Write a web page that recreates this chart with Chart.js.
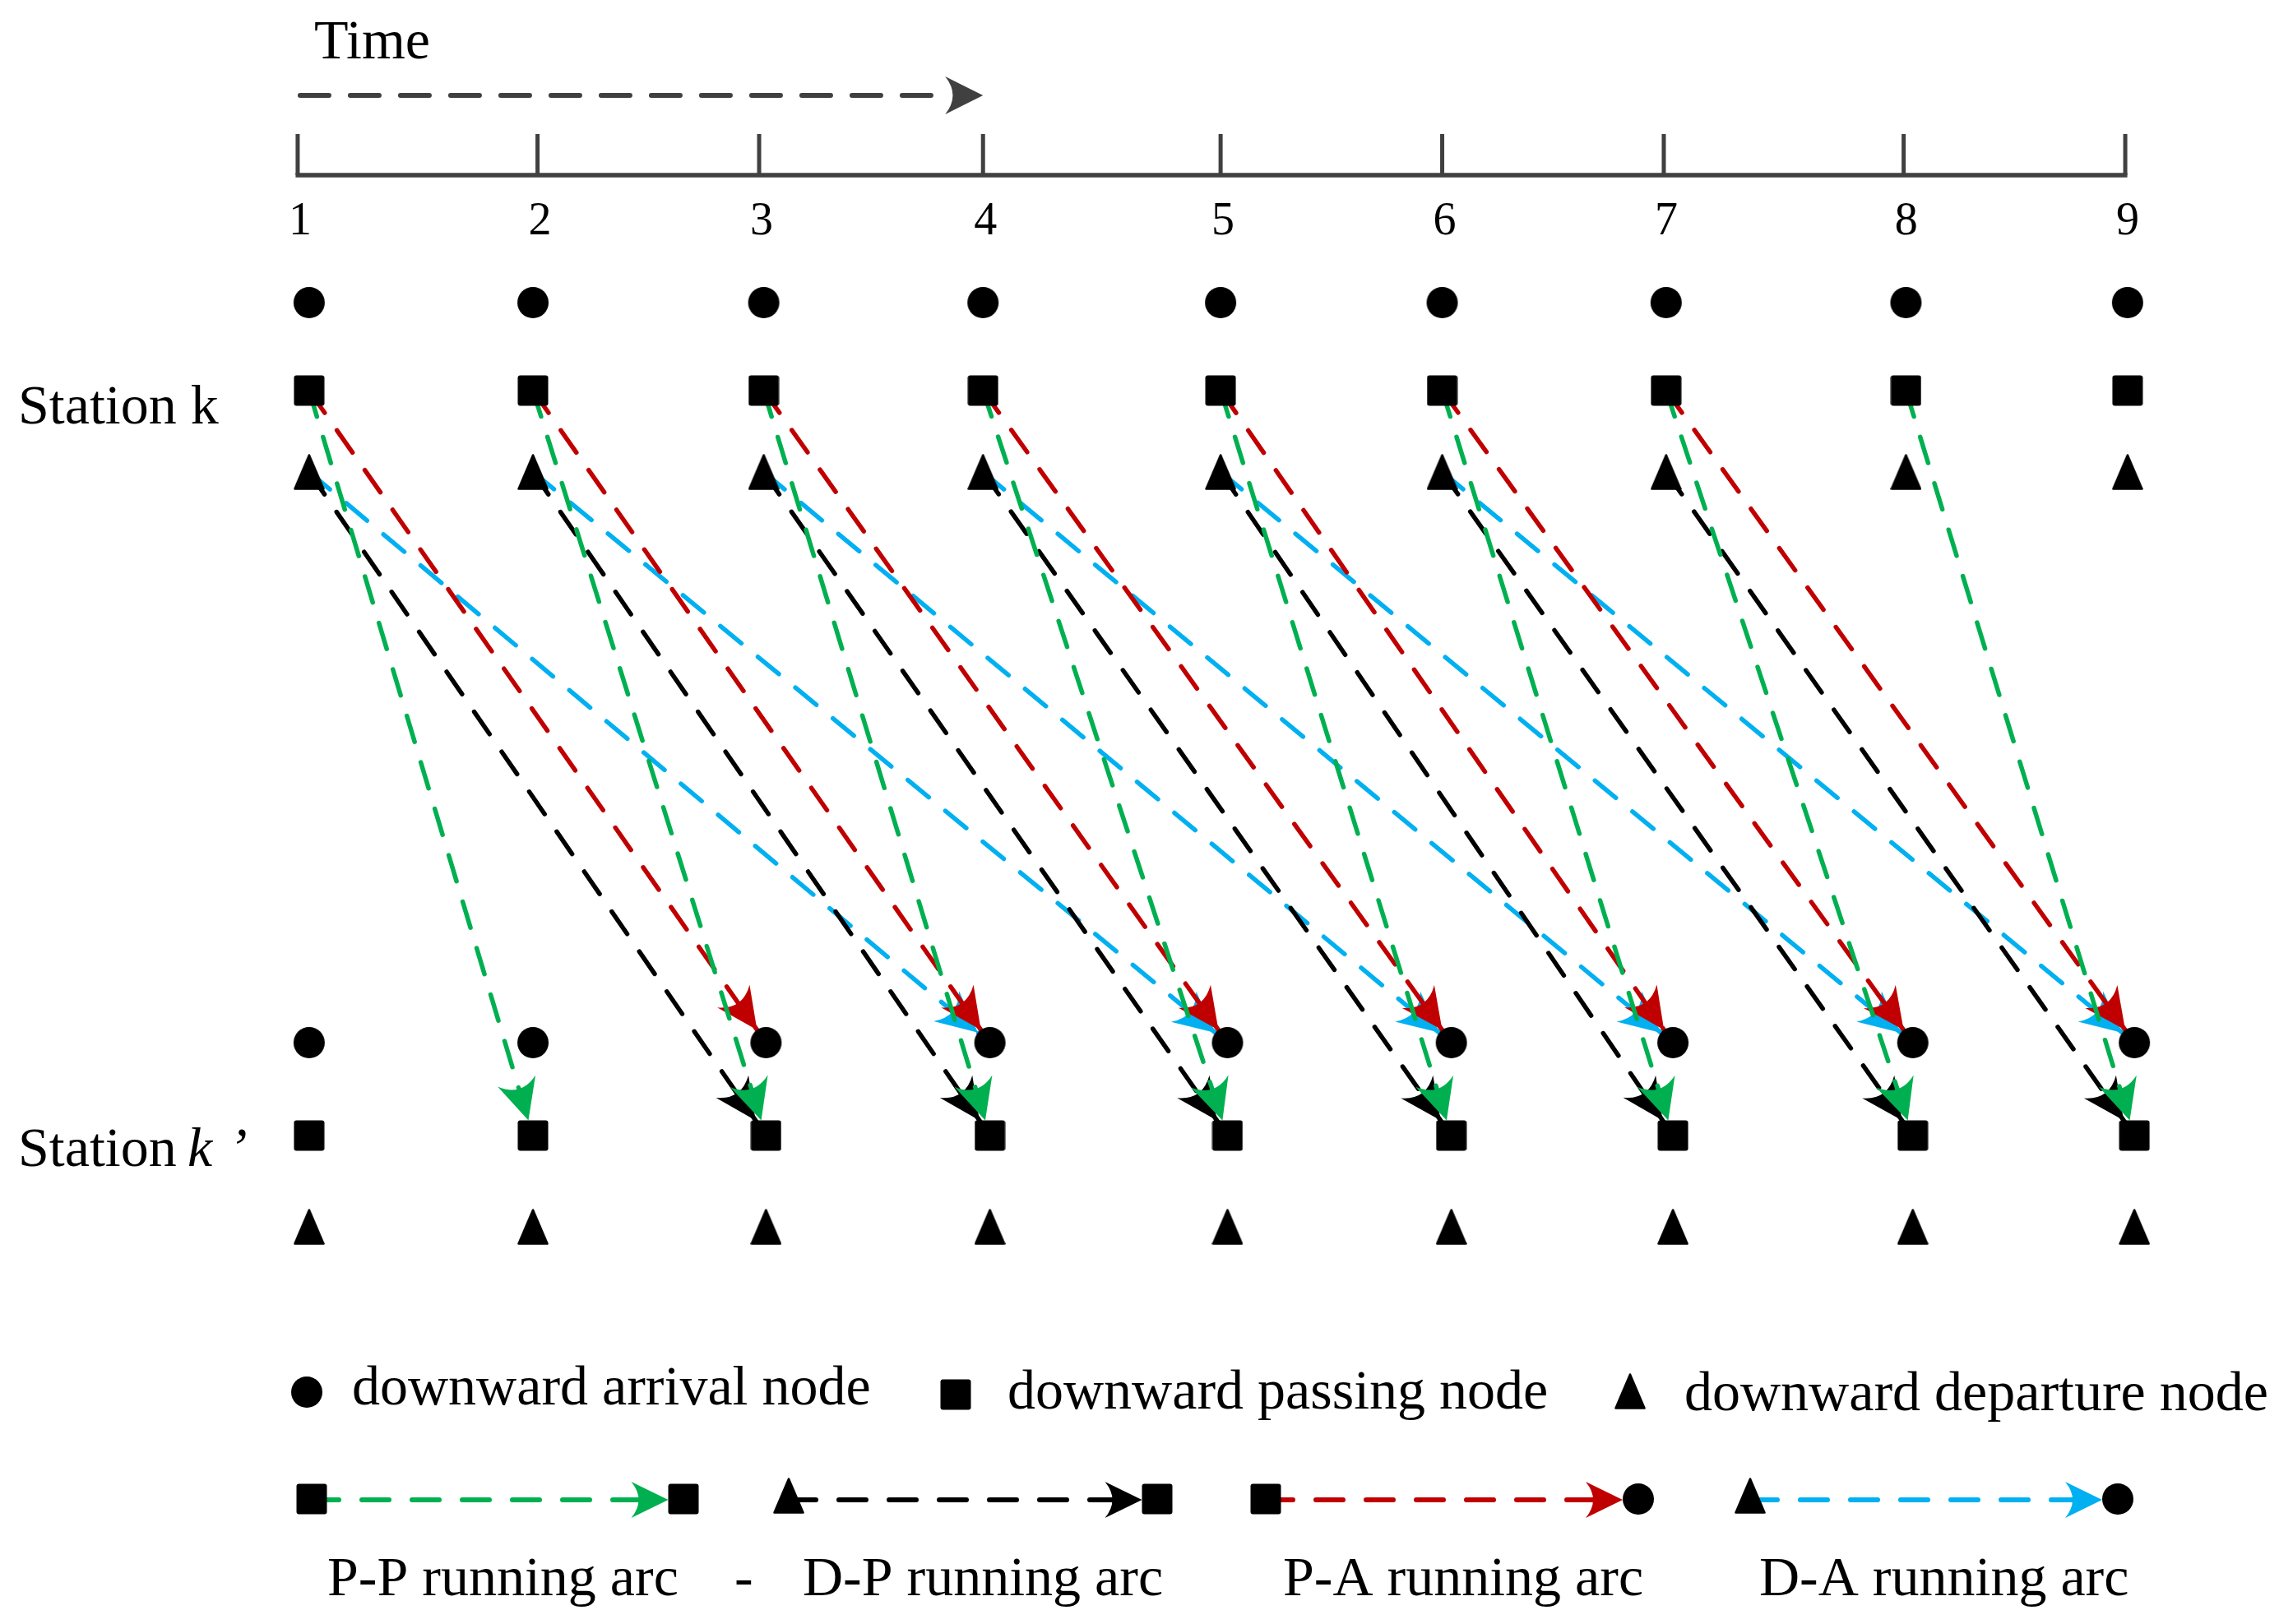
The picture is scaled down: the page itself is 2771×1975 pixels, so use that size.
<!DOCTYPE html>
<html lang="en">
<head>
<meta charset="UTF-8" />
<title>Running arcs between station k and station k'</title>
<script src="https://cdn.jsdelivr.net/npm/chart.js"></script>
<style>
  html, body { margin: 0; padding: 0; background: #fff; }
  canvas { display: block; }
</style>
</head>
<body>
<canvas id="arcChart" width="2771" height="1975"></canvas>
<script>
  // time axis
  const tickLabels = ['1', '2', '3', '4', '5', '6', '7', '8', '9'];
  const tickTimes = [1.00, 2.05, 3.02, 4.00, 5.04, 6.01, 6.98, 8.03, 9.00];

  // node times at each station (slot 1..9)
  const stationKTimes = [1.05, 2.03, 3.04, 4.00, 5.04, 6.01, 6.99, 8.04, 9.01];
  const stationK2Times = [1.05, 2.03, 3.05, 4.03, 5.07, 6.05, 7.02, 8.07, 9.04];

  // row levels: arrival, passing, departure
  const stationKLevels = [3.68, 4.75, 5.74];
  const stationK2Levels = [12.68, 13.81, 14.92];
  const axisLevel = 2.13;
  const timeArrowLevel = 1.16;

  // running arcs as [slot at k, slot at k']
  const ppArcs = [[1, 2], [2, 3], [3, 4], [4, 5], [5, 6], [6, 7], [7, 8], [8, 9]];
  const dpArcs = [[1, 3], [2, 4], [3, 5], [4, 6], [5, 7], [6, 8], [7, 9]];
  const paArcs = [[1, 3], [2, 4], [3, 5], [4, 6], [5, 7], [6, 8], [7, 9]];
  const daArcs = [[1, 4], [2, 5], [3, 6], [4, 7], [5, 8], [6, 9]];

  const nodeLabels = ['downward arrival node', 'downward passing node', 'downward departure node'];
  const arcLabels = ['P-P running arc', 'D-P running arc', 'P-A running arc', 'D-A running arc'];

  const GREEN = '#00B050', RED = '#C00000', BLUE = '#00B0F0', BLACK = '#000000', GREY = '#404040';
  const SERIF = '"Liberation Serif", "Times New Roman", serif';

  // marker images
  function makeMarker(kind) {
    const c = document.createElement('canvas');
    const g = c.getContext('2d');
    g.fillStyle = '#000';
    g.strokeStyle = '#000';
    if (kind === 'circle') {
      c.width = 40; c.height = 40;
      g.beginPath();
      g.arc(20, 20, 19, 0, Math.PI * 2);
      g.fill();
    } else if (kind === 'square') {
      c.width = 38; c.height = 38;
      g.beginPath();
      g.roundRect(0.5, 0.5, 37, 37, 3);
      g.fill();
    } else {
      c.width = 38; c.height = 44;
      g.lineJoin = 'round';
      g.lineWidth = 2.5;
      g.beginPath();
      g.moveTo(19, 1.5);
      g.lineTo(36.5, 42.5);
      g.lineTo(1.5, 42.5);
      g.closePath();
      g.fill();
      g.stroke();
    }
    return c;
  }
  const markers = [makeMarker('circle'), makeMarker('square'), makeMarker('triangle')];

  function arrowHead(ctx, x, y, ang, color, len, half) {
    ctx.save();
    ctx.translate(x, y);
    ctx.rotate(ang);
    ctx.beginPath();
    ctx.moveTo(0, 0);
    ctx.lineTo(-len, -half);
    ctx.quadraticCurveTo(-len * 0.6, 0, -len, half);
    ctx.closePath();
    ctx.fillStyle = color;
    ctx.fill();
    ctx.restore();
  }

  // node datasets (one per node type, both stations)
  const nodeSets = [0, 1, 2].map(r => ({
    data: stationKTimes.map(t => ({ x: t, y: stationKLevels[r] }))
      .concat(stationK2Times.map(t => ({ x: t, y: stationK2Levels[r] }))),
    pointStyle: markers[r],
    pointRadius: 20,
    order: -1
  }));

  // arc datasets
  const arcTypes = [
    { arcs: ppArcs, from: 1, to: 1, color: GREEN },
    { arcs: dpArcs, from: 2, to: 1, color: BLACK },
    { arcs: paArcs, from: 1, to: 0, color: RED },
    { arcs: daArcs, from: 2, to: 0, color: BLUE }
  ];
  const arcSets = [];
  arcTypes.forEach(type => {
    type.arcs.forEach(([a, b]) => {
      arcSets.push({
        data: [
          { x: stationKTimes[a - 1], y: stationKLevels[type.from] },
          { x: stationK2Times[b - 1], y: stationK2Levels[type.to] }
        ],
        showLine: true,
        pointRadius: 0,
        borderColor: type.color,
        borderWidth: 5.5,
        borderDash: [33, 26],
        borderCapStyle: 'round',
        fill: false,
        arrowColor: type.color,
        arrowTarget: type.to === 0 ? 'circle' : 'square'
      });
    });
  });

  // arrowheads at the k' end of every arc
  const arrowPlugin = {
    id: 'arrows',
    afterDatasetDraw(chart, args) {
      const ds = chart.data.datasets[args.index];
      if (!ds.arrowColor) return;
      const [p, q] = args.meta.data;
      const dx = q.x - p.x, dy = q.y - p.y;
      const d = Math.hypot(dx, dy);
      const ux = dx / d, uy = dy / d;
      const back = ds.arrowTarget === 'circle' ? 19 : 18.5 / Math.max(Math.abs(ux), Math.abs(uy));
      arrowHead(chart.ctx, q.x - ux * back, q.y - uy * back, Math.atan2(dy, dx), ds.arrowColor, 50, 24);
    }
  };

  // time axis, station names and legend
  const decorPlugin = {
    id: 'decor',
    afterDraw(chart) {
      const ctx = chart.ctx;
      const xs = chart.scales.x, ys = chart.scales.y;
      const yAxis = ys.getPixelForValue(axisLevel);
      ctx.save();

      // time arrow
      const yArrow = ys.getPixelForValue(timeArrowLevel);
      const xa0 = xs.getPixelForValue(tickTimes[0]);
      const xa1 = xs.getPixelForValue(tickTimes[3]);
      ctx.strokeStyle = GREY;
      ctx.lineWidth = 6;
      ctx.lineCap = 'round';
      ctx.setLineDash([35, 26]);
      ctx.beginPath();
      ctx.moveTo(xa0 + 3, yArrow);
      ctx.lineTo(xa1 - 40, yArrow);
      ctx.stroke();
      ctx.setLineDash([]);
      arrowHead(ctx, xa1, yArrow, 0, GREY, 46, 23);

      ctx.fillStyle = '#000';
      ctx.font = '68px ' + SERIF;
      ctx.textBaseline = 'alphabetic';
      ctx.textAlign = 'left';
      ctx.fillText('Time', xa0 + 20, 71);

      // axis line and ticks
      ctx.strokeStyle = GREY;
      ctx.lineCap = 'butt';
      ctx.lineWidth = 5.5;
      const xFirst = xs.getPixelForValue(tickTimes[0]);
      const xLast = xs.getPixelForValue(tickTimes[tickTimes.length - 1]);
      ctx.beginPath();
      ctx.moveTo(xFirst - 2.5, yAxis);
      ctx.lineTo(xLast + 2.5, yAxis);
      ctx.stroke();
      ctx.lineWidth = 5;
      ctx.font = '56px ' + SERIF;
      ctx.textAlign = 'center';
      tickTimes.forEach((t, i) => {
        const x = xs.getPixelForValue(t);
        ctx.beginPath();
        ctx.moveTo(x, yAxis);
        ctx.lineTo(x, yAxis - 50);
        ctx.stroke();
        ctx.fillText(tickLabels[i], x + 3, yAxis + 72);
      });

      // station names
      ctx.textAlign = 'left';
      ctx.font = '68px ' + SERIF;
      ctx.fillText('Station k', 22, 515);
      ctx.fillText('Station ', 22, 1418);
      ctx.font = 'italic 68px ' + SERIF;
      ctx.fillText('k', 228, 1418);
      ctx.fillText('\u2019', 278, 1418);

      // legend row 1: node types
      const put = (m, x, y) => ctx.drawImage(m, x - m.width / 2, y - m.height / 2);
      ctx.font = '68px ' + SERIF;
      const row1 = [[373, 1693, 428, 1708], [1162, 1696, 1225, 1713], [1982, 1692, 2048, 1715]];
      row1.forEach(([mx, my, tx, ty], i) => {
        put(markers[i], mx, my);
        ctx.fillText(nodeLabels[i], tx, ty);
      });

      // legend row 2: arc samples
      const row2 = [
        [1, 379, 1, 831, GREEN],
        [2, 959, 1, 1407, BLACK],
        [1, 1539, 0, 1992, RED],
        [2, 2128, 0, 2575, BLUE]
      ];
      const yl = 1824;
      row2.forEach(([fm, fx, tm, tx, col]) => {
        const tip = tx - (tm === 0 ? 19 : 18.5);
        ctx.strokeStyle = col;
        ctx.lineWidth = 6;
        ctx.lineCap = 'round';
        ctx.setLineDash([33, 28]);
        ctx.beginPath();
        ctx.moveTo(fx, yl);
        ctx.lineTo(tip - 30, yl);
        ctx.stroke();
        ctx.setLineDash([]);
        arrowHead(ctx, tip, yl, 0, col, 45, 22);
        put(markers[fm], fx, fm === 2 ? 1819 : 1823);
        put(markers[tm], tx, 1823);
      });

      // legend row 3: arc names
      ctx.fillStyle = '#000';
      [398, 976, 1560, 2139].forEach((x, i) => ctx.fillText(arcLabels[i], x, 1940));
      ctx.fillText('-', 893, 1940);

      ctx.restore();
    }
  };

  new Chart(document.getElementById('arcChart'), {
    type: 'scatter',
    data: { datasets: nodeSets.concat(arcSets) },
    options: {
      responsive: false,
      animation: false,
      devicePixelRatio: 1,
      events: [],
      layout: { padding: 0, autoPadding: false },
      scales: {
        x: { type: 'linear', display: false, min: -0.303, max: 9.673 },
        y: { type: 'linear', display: false, min: 0, max: 19.75, reverse: true }
      },
      plugins: {
        legend: { display: false },
        tooltip: { enabled: false }
      }
    },
    plugins: [arrowPlugin, decorPlugin]
  });
</script>
</body>
</html>
